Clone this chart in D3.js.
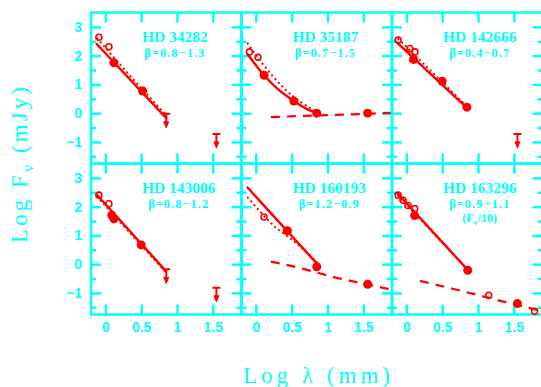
<!DOCTYPE html>
<html>
<head>
<meta charset="utf-8">
<script src="https://cdn.jsdelivr.net/npm/d3@7"></script>
<style>
  html, body { margin: 0; padding: 0; background: #fff; overflow: hidden; }
  svg { display: block; }
</style>
</head>
<body>
<svg id="chart" width="541" height="387"></svg>
<script>
// ---- Data: one entry per star, in panel order (row by row) ----
const starNames = ["HD 34282", "HD 35187", "HD 142666", "HD 143006", "HD 160193", "HD 163296"];
const betaRanges = ["β=0.8−1.3", "β=0.7−1.5", "β=0.4−0.7", "β=0.8−1.2", "β=1.2−0.9", "β=0.9−1.1"];
const fluxNotes = ["", "", "", "", "", "(F|ν|/10)"];

// Detections, [log λ (mm), log Fν (mJy)]
const filledPoints = [
  [[0.12, 1.75], [0.52, 0.77]],
  [[0.115, 1.32], [0.53, 0.42], [0.85, 0.0], [1.56, 0.0]],
  [[0.1, 1.87], [0.5, 1.11], [0.845, 0.21]],
  [[0.09, 1.7], [0.12, 1.58], [0.5, 0.67]],
  [[0.44, 1.16], [0.85, -0.09], [1.56, -0.70]],
  [[0.116, 1.69], [0.857, -0.21], [1.55, -1.37]]
];
// Other literature fluxes
const openPoints = [
  [[-0.09, 2.64], [0.05, 2.31]],
  [[-0.09, 2.13], [0.03, 1.94]],
  [[-0.115, 2.54], [0.05, 2.25], [0.12, 2.13]],
  [[-0.09, 2.40], [0.05, 2.1]],
  [[0.115, 1.64]],
  [[-0.115, 2.40], [-0.046, 2.22], [0.023, 2.04], [0.116, 1.93], [1.15, -1.08], [1.79, -1.64]]
];
// Upper limits
const upperLimits = [
  [[0.85, -0.02], [1.55, -0.72]],
  [],
  [[1.55, -0.72]],
  [[0.85, -0.18], [1.55, -0.82]],
  [],
  []
];
// Dust model fits (solid), alternative fits (dotted), free-free component (dashed)
const solidFits = [
  [[-0.13, 2.43], [0.86, -0.2]],
  [[-0.125, 2.08], [0.115, 1.32], [0.3, 0.85], [0.53, 0.42], [0.7, 0.16], [0.86, 0.0]],
  [[-0.14, 2.48], [0.86, 0.15]],
  [[-0.13, 2.45], [0.85, -0.25]],
  [[-0.125, 2.69], [0.86, 0.0]],
  [[-0.13, 2.48], [0.86, -0.21]]
];
const dottedFits = [
  [[-0.12, 2.62], [0.23, 1.62], [0.86, -0.1]],
  [[-0.12, 2.45], [0.1, 1.7], [0.4, 0.85], [0.86, 0.02]],
  [[-0.12, 2.6], [0.86, 0.2]],
  [[-0.12, 2.36], [0.85, -0.3]],
  [[-0.12, 2.34], [0.25, 1.34], [0.58, 0.70], [0.86, 0.05]],
  [[-0.12, 2.4], [0.86, -0.2]]
];
const dashedFits = [
  [],
  [[0.21, -0.14], [0.6, -0.1], [1.1, -0.06], [1.9, 0.01]],
  [],
  [],
  [[0.21, 0.09], [0.625, -0.14], [1.09, -0.45], [1.55, -0.70], [1.92, -0.9]],
  [[0.19, -0.58], [0.62, -0.84], [1.04, -1.1], [1.41, -1.34], [1.85, -1.6]]
];

const xDomain = [-0.2, 1.9];
const yDomain = [-1.75, 3.5];
const xTickValues = [0, 0.5, 1, 1.5];
const yMajorTicks = [-1, 0, 1, 2, 3];
const yMinorTicks = [-1.5, -0.5, 0.5, 1.5, 2.5];
const xAxisTitle = "Log λ (mm)";

// ---- Layout & style ----
const CYAN = "#00ffff";
const RED = "#ff0000";
const left0 = 91, top0 = 12.5, pw = 150.5, ph = 151;
const tickFont = "bold 14px 'Liberation Sans', Arial, sans-serif";
const serif = "'Liberation Serif', 'Times New Roman', serif";

const svg = d3.select("#chart");
const fmt = d => (d < 0 ? "−" + Math.abs(d) : String(d));

starNames.forEach((name, i) => {
  const col = i % 3, row = Math.floor(i / 3);
  const left = left0 + col * pw, top = top0 + row * ph;
  const x = d3.scaleLinear().domain(xDomain).range([left, left + pw]);
  const y = d3.scaleLinear().domain(yDomain).range([top + ph, top]);
  const g = svg.append("g");

  const styleAxis = sel => {
    sel.select(".domain").remove();
    sel.selectAll(".tick line").attr("stroke", CYAN).attr("stroke-width", 2.5);
    sel.selectAll(".tick text").attr("fill", CYAN).style("font", tickFont);
  };

  // x axes (ticks point inward)
  g.append("g").attr("transform", `translate(0,${top + ph})`)
    .call(d3.axisBottom(x).tickValues(xTickValues).tickSize(-10).tickPadding(8)
      .tickFormat(row === 1 ? fmt : ""))
    .call(styleAxis);
  g.append("g").attr("transform", `translate(0,${top})`)
    .call(d3.axisTop(x).tickValues(xTickValues).tickSize(-10).tickFormat(""))
    .call(styleAxis);
  // y axes, major and minor
  g.append("g").attr("transform", `translate(${left},0)`)
    .call(d3.axisLeft(y).tickValues(yMajorTicks).tickSize(-10).tickPadding(9)
      .tickFormat(col === 0 ? fmt : ""))
    .call(styleAxis);
  g.append("g").attr("transform", `translate(${left},0)`)
    .call(d3.axisLeft(y).tickValues(yMinorTicks).tickSize(-5).tickFormat(""))
    .call(styleAxis);
  g.append("g").attr("transform", `translate(${left + pw},0)`)
    .call(d3.axisRight(y).tickValues(yMajorTicks).tickSize(-10).tickFormat(""))
    .call(styleAxis);
  g.append("g").attr("transform", `translate(${left + pw},0)`)
    .call(d3.axisRight(y).tickValues(yMinorTicks).tickSize(-5).tickFormat(""))
    .call(styleAxis);

  // frame
  g.append("rect").attr("x", left).attr("y", top).attr("width", pw).attr("height", ph)
    .attr("fill", "none").attr("stroke", CYAN).attr("stroke-width", 2.5);

  // labels: star name, β range, optional flux scaling note
  const title = g.append("text")
    .attr("x", x(0.51)).attr("y", top + 29.5)
    .attr("fill", CYAN).style("font", `bold 15.5px ${serif}`)
    .text(name);
  const tw = title.node().getComputedTextLength();
  const cx = x(0.51) + tw / 2;
  g.append("text").attr("x", cx).attr("y", top + 44).attr("text-anchor", "middle")
    .attr("fill", CYAN).style("font", `bold 12.5px ${serif}`).attr("letter-spacing", 1)
    .text(betaRanges[i]);
  if (fluxNotes[i]) {
    const parts = fluxNotes[i].split("|");
    const t = g.append("text").attr("x", cx).attr("y", top + 58).attr("text-anchor", "middle")
      .attr("fill", CYAN).style("font", `bold 12px ${serif}`);
    t.append("tspan").text(parts[0]);
    t.append("tspan").attr("dy", 3).style("font-size", "9px").text(parts[1]);
    t.append("tspan").attr("dy", -3).text(parts[2]);
  }

  // model curves
  const line = d3.line().x(d => x(d[0])).y(d => y(d[1])).curve(d3.curveMonotoneX);
  g.append("path").attr("d", line(solidFits[i])).attr("fill", "none")
    .attr("stroke", RED).attr("stroke-width", 2.4);
  g.append("path").attr("d", line(dottedFits[i])).attr("fill", "none")
    .attr("stroke", RED).attr("stroke-width", 2).attr("stroke-dasharray", "2,3");
  if (dashedFits[i].length) {
    g.append("path").attr("d", line(dashedFits[i])).attr("fill", "none")
      .attr("stroke", RED).attr("stroke-width", 2.2).attr("stroke-dasharray", "9,7");
  }

  // data points
  g.selectAll(".filled").data(filledPoints[i]).join("circle")
    .attr("cx", d => x(d[0])).attr("cy", d => y(d[1])).attr("r", 4.5).attr("fill", RED);
  g.selectAll(".open").data(openPoints[i]).join("circle")
    .attr("cx", d => x(d[0])).attr("cy", d => y(d[1])).attr("r", 3)
    .attr("fill", "none").attr("stroke", RED).attr("stroke-width", 1.6);
  const ul = g.selectAll(".ul").data(upperLimits[i]).join("g")
    .attr("transform", d => `translate(${x(d[0])},${y(d[1])})`);
  ul.append("path").attr("d", "M-4,0H4M0,0V10").attr("stroke", RED).attr("stroke-width", 2).attr("fill", "none");
  ul.append("path").attr("d", "M-2.5,8L2.5,8L0,14Z").attr("fill", RED).attr("stroke", RED).attr("stroke-width", 1);
});

// axis titles
svg.append("text").attr("x", 316.5).attr("y", 383).attr("text-anchor", "middle")
  .attr("fill", CYAN).style("font", `23px ${serif}`)
  .attr("textLength", 147).attr("lengthAdjust", "spacing")
  .text(xAxisTitle);

const yt = svg.append("text").attr("transform", "translate(27,165) rotate(-90)")
  .attr("text-anchor", "middle").attr("fill", CYAN).style("font", `23px ${serif}`)
  .attr("textLength", 156).attr("lengthAdjust", "spacing");
yt.append("tspan").text("Log F");
yt.append("tspan").attr("dy", 6).style("font-size", "16px").text("ν");
yt.append("tspan").attr("dy", -6).text(" (mJy)");
</script>
</body>
</html>
